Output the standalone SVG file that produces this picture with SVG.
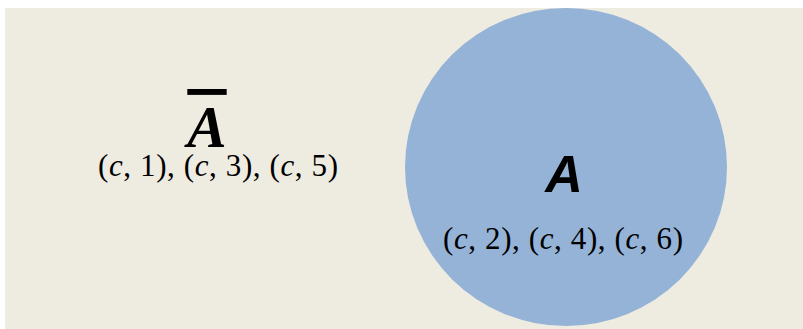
<svg xmlns="http://www.w3.org/2000/svg" width="803" height="329" viewBox="0 0 803 329">
<style>
.math{font-family:"Liberation Serif","DejaVu Serif",serif;font-size:31px;fill:#000}
.mi{font-style:italic}
</style>
<rect x="0" y="0" width="803" height="329" fill="#ffffff"/>
<rect x="5" y="8" width="798" height="321" fill="#EEEBE1"/>
<g id="set-A">
<ellipse cx="566" cy="167" rx="161" ry="159" fill="#95B3D7"/>
<text x="564" y="192" text-anchor="middle" font-family="Liberation Sans, Arial, sans-serif" font-weight="bold" font-style="italic" font-size="52" fill="#000">A</text>
<text class="math" x="563" y="249" text-anchor="middle" textLength="240" lengthAdjust="spacing">(<tspan class="mi">c</tspan>, 2), (<tspan class="mi">c</tspan>, 4), (<tspan class="mi">c</tspan>, 6)</text>
</g>
<g id="set-not-A">
<text x="207" y="147" text-anchor="middle" font-family="Liberation Serif, serif" font-weight="bold" font-style="italic" font-size="59" fill="#000" text-decoration="overline">A</text>
<text class="math" x="218" y="176" text-anchor="middle" textLength="240" lengthAdjust="spacing">(<tspan class="mi">c</tspan>, 1), (<tspan class="mi">c</tspan>, 3), (<tspan class="mi">c</tspan>, 5)</text>
</g>
<g id="connectors"/>
</svg>
